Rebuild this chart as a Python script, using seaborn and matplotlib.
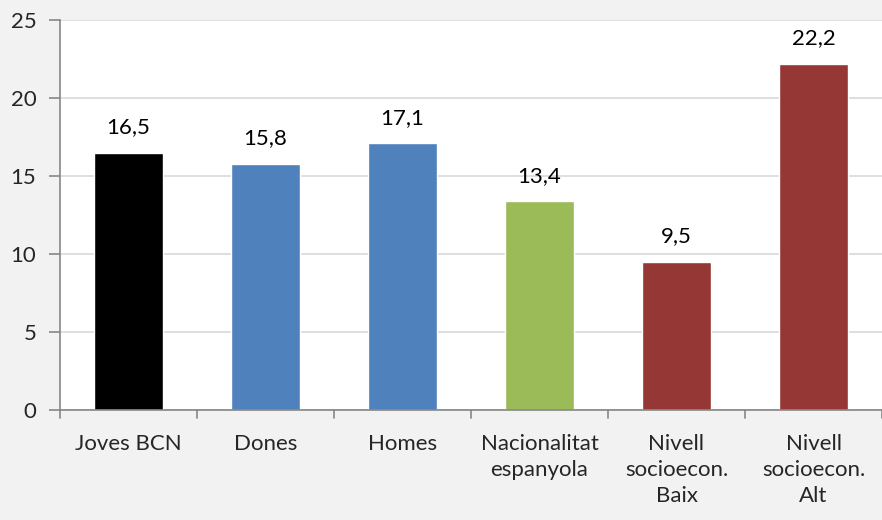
import matplotlib
matplotlib.use("Agg")
import matplotlib.pyplot as plt
import seaborn as sns
import pandas as pd

categories = ["Joves BCN", "Dones", "Homes", "Nacionalitat\nespanyola",
              "Nivell\nsocioecon.\nBaix", "Nivell\nsocioecon.\nAlt"]
values = [16.5, 15.8, 17.1, 13.4, 9.5, 22.2]
value_labels = ["16,5", "15,8", "17,1", "13,4", "9,5", "22,2"]
colors = ["#000000", "#4F81BD", "#4F81BD", "#9BBB59", "#953735", "#953735"]
yticks = [0, 5, 10, 15, 20, 25]

sns.set_style("white")
plt.rcParams["font.family"] = ["Lato", "DejaVu Sans"]

df = pd.DataFrame({"cat": categories, "val": values})

fig = plt.figure(figsize=(8.82, 5.2), dpi=100, facecolor="#F2F2F2")
ax = fig.add_axes([60 / 882, 1 - 410 / 520, 1 - 60 / 882, (410 - 20) / 520])
ax.set_facecolor("white")

sns.barplot(data=df, x="cat", y="val", hue="cat", palette=colors, legend=False,
            width=0.5, ax=ax, saturation=1)

ax.set_ylim(0, 25)
ax.set_xlim(-0.5, len(categories) - 0.5)
ax.set_yticks(yticks)
ax.set_yticklabels([str(t) for t in yticks], fontsize=16)
ax.yaxis.grid(True, color="#D9D9D9", linewidth=1.2)
ax.set_axisbelow(True)

# category labels
ax.set_xticks(range(len(categories)))
ax.set_xticklabels(categories, fontsize=16, linespacing=1.4)
ax.tick_params(axis="x", length=0, pad=17)
ax.tick_params(axis="y", length=8, width=1.2, color="#868686", pad=9, left=True)
# boundary tick marks
for b in [i - 0.5 for i in range(len(categories) + 1)]:
    ax.plot([b, b], [0, -0.02], transform=ax.get_xaxis_transform(),
            color="#868686", lw=1.2, clip_on=False)

for s in ["top", "right"]:
    ax.spines[s].set_visible(False)
for s in ["left", "bottom"]:
    ax.spines[s].set_color("#868686")
    ax.spines[s].set_linewidth(1.2)

for i, (v, lab) in enumerate(zip(values, value_labels)):
    ax.annotate(lab, (i, v), xytext=(0, 11), textcoords="offset points",
                ha="center", va="bottom", fontsize=16, color="black")

ax.set_xlabel("")
ax.set_ylabel("")
fig.savefig("out.png", dpi=100, facecolor=fig.get_facecolor())
